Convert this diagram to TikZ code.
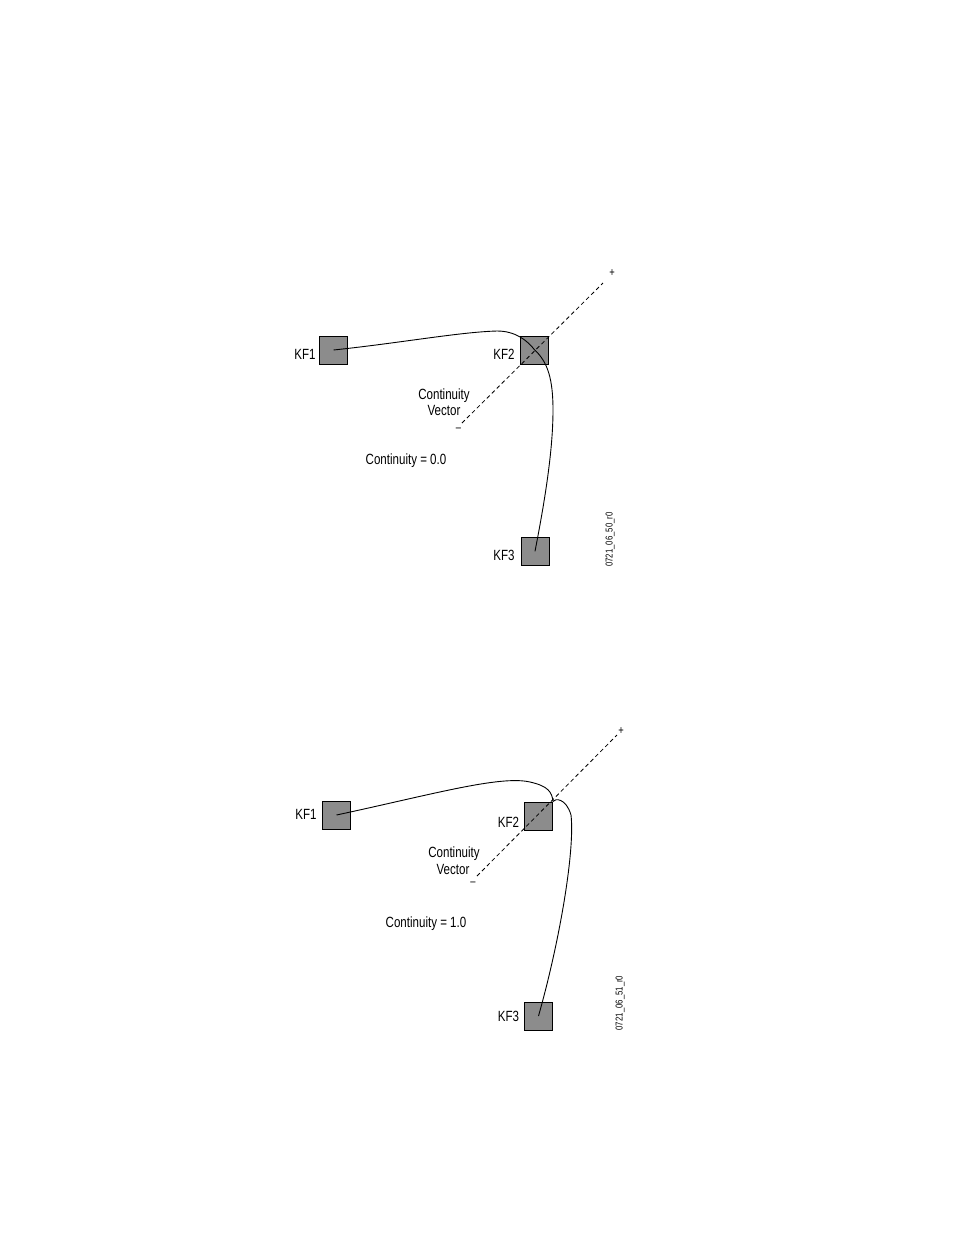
\documentclass[tikz,border=0pt]{standalone}
\usepackage{fontspec}
\setmainfont{Liberation Sans}[FakeStretch=0.78]
\definecolor{kfgray}{RGB}{140,140,140}
\tikzset{
  kf/.style={draw=black, line width=1pt, fill=kfgray, minimum size=28pt, inner sep=0pt},
  lbl/.style={font=\fontsize{14.8}{15}\selectfont, inner sep=0pt},
  sgn/.style={font=\fontsize{12}{12}\selectfont, inner sep=0pt},
  code/.style={font=\fontsize{10}{10}\selectfont, inner sep=0pt, rotate=90},
  curve/.style={line width=0.9pt},
  vec/.style={line width=0.8pt, dash pattern=on 4pt off 3pt},
}
\begin{document}
\begin{tikzpicture}[x=1pt,y=-1pt]
\useasboundingbox (0,0) rectangle (954,1235);
% ---------- top diagram ----------
\node[kf] (a1) at (333.5,350) {};
\node[kf] (a2) at (534.7,350) {};
\node[kf] (a3) at (535,551.3) {};
\node[lbl] (la1) at (305,354.5) {KF1};
\node[lbl] (la2) at (504,354) {KF2};
\node[lbl] (la3) at (504,555.5) {KF3};
\coordinate (am) at (462,423);
\coordinate (ap) at (603,283);
\draw[vec] (am) -- (ap);
\node[sgn] (aplus) at (612,273.5) {+};
\node[sgn] (aminus) at (458.5,430) {--};
\node[lbl] (acv1) at (444,395.5) {Continuity};
\node[lbl] (acv2) at (444,410.5) {Vector};
\node[lbl] (acont) at (406,461) {Continuity = 0.0};
\node[code] (acode) at (610,539.5) {0721\_06\_50\_r0};
\draw[curve] (a1.center) .. controls (400,343) and (460,332) .. (497,331)
  .. controls (515,331) and (527,340) .. (a2.center)
  .. controls (548,362) and (553,380) .. (553,410)
  .. controls (553,450) and (545,500) .. (a3.center);
% ---------- bottom diagram ----------
\node[kf] (b1) at (336.5,815) {};
\node[kf] (b2) at (538.5,816) {};
\node[kf] (b3) at (538.5,1016) {};
\node[lbl] (lb1) at (306,814) {KF1};
\node[lbl] (lb2) at (508.5,822) {KF2};
\node[lbl] (lb3) at (508.5,1016) {KF3};
\coordinate (bm) at (477,876);
\coordinate (bp) at (617,735);
\draw[vec] (bm) -- (bp);
\node[sgn] (bplus) at (621,731.5) {+};
\node[sgn] (bminus) at (473,884) {--};
\node[lbl] (bcv1) at (454,854) {Continuity};
\node[lbl] (bcv2) at (453,869.5) {Vector};
\node[lbl] (bcont) at (426,924) {Continuity = 1.0};
\node[code] (bcode) at (620,1003) {0721\_06\_51\_r0};
\draw[curve] (b1.center) .. controls (430,795) and (500,775) .. (530,782)
  .. controls (548,786) and (552,792) .. (b2.north east)
  .. controls (555,798) and (566,798) .. (571,815)
  .. controls (575,850) and (560,940) .. (b3.center);
\end{tikzpicture}
\end{document}
